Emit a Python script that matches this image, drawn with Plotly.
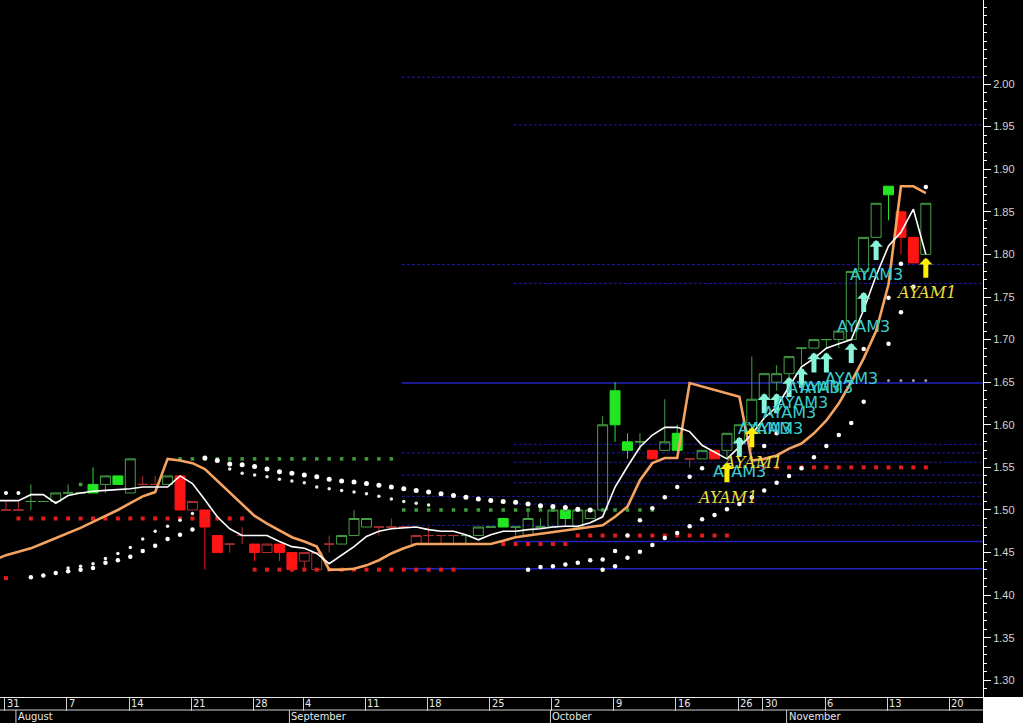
import plotly.graph_objects as go

# ---------------- data ----------------
days = list(range(75))
cndl_open = [1.50, 1.50, 1.51, 1.51, 1.51, 1.52, 1.52, 1.53, 1.53, 1.54,
             1.52, 1.53, 1.53, 1.53, 1.54, 1.50, 1.50, 1.47, 1.46, 1.47,
             1.46, 1.45, 1.46, 1.45, 1.44, 1.43, 1.46, 1.46, 1.47, 1.48,
             1.48, 1.48, 1.48, 1.46, 1.47, 1.47, 1.47, 1.47, 1.47, 1.48,
             1.49, 1.48, 1.47, 1.48, 1.48, 1.50, 1.48, 1.49, 1.50, 1.64,
             1.58, 1.58, 1.57, 1.57, 1.59, 1.56, 1.56, 1.57, 1.57, 1.58,
             1.60, 1.63, 1.65, 1.66, 1.69, 1.69, 1.70, 1.70, 1.70, 1.78,
             1.82, 1.88, 1.85, 1.82, 1.80]
cndl_high = [1.51, 1.51, 1.53, 1.51, 1.52, 1.53, 1.52, 1.55, 1.54, 1.54,
             1.56, 1.54, 1.54, 1.54, 1.54, 1.51, 1.50, 1.47, 1.46, 1.48,
             1.46, 1.46, 1.46, 1.45, 1.45, 1.45, 1.47, 1.47, 1.50, 1.49,
             1.48, 1.49, 1.48, 1.47, 1.48, 1.47, 1.47, 1.47, 1.48, 1.48,
             1.49, 1.48, 1.50, 1.49, 1.50, 1.50, 1.50, 1.50, 1.61, 1.65,
             1.59, 1.59, 1.57, 1.63, 1.60, 1.56, 1.57, 1.57, 1.59, 1.60,
             1.68, 1.66, 1.67, 1.68, 1.69, 1.70, 1.70, 1.71, 1.78, 1.82,
             1.86, 1.88, 1.85, 1.82, 1.86]
cndl_low = [1.50, 1.50, 1.50, 1.51, 1.51, 1.52, 1.52, 1.52, 1.52, 1.53,
            1.52, 1.53, 1.53, 1.53, 1.50, 1.50, 1.43, 1.45, 1.45, 1.46,
            1.44, 1.45, 1.44, 1.43, 1.43, 1.43, 1.45, 1.46, 1.47, 1.48,
            1.47, 1.48, 1.48, 1.46, 1.46, 1.46, 1.46, 1.46, 1.47, 1.48,
            1.48, 1.47, 1.47, 1.48, 1.48, 1.48, 1.48, 1.49, 1.50, 1.58,
            1.56, 1.57, 1.56, 1.57, 1.57, 1.55, 1.56, 1.56, 1.56, 1.58,
            1.57, 1.62, 1.64, 1.65, 1.67, 1.69, 1.69, 1.69, 1.70, 1.77,
            1.82, 1.84, 1.80, 1.79, 1.80]
cndl_close = [1.50, 1.50, 1.51, 1.51, 1.52, 1.52, 1.52, 1.52, 1.54, 1.53,
              1.56, 1.53, 1.53, 1.54, 1.50, 1.51, 1.48, 1.45, 1.46, 1.47,
              1.45, 1.46, 1.45, 1.43, 1.45, 1.45, 1.46, 1.47, 1.49, 1.49,
              1.48, 1.48, 1.48, 1.47, 1.47, 1.47, 1.47, 1.47, 1.48, 1.48,
              1.48, 1.48, 1.49, 1.48, 1.50, 1.49, 1.50, 1.50, 1.60, 1.60,
              1.57, 1.58, 1.56, 1.58, 1.57, 1.56, 1.57, 1.56, 1.59, 1.60,
              1.63, 1.66, 1.66, 1.68, 1.69, 1.70, 1.70, 1.71, 1.78, 1.82,
              1.86, 1.87, 1.82, 1.79, 1.86]
cndl_colour = list("rrgggggggg" "grrgrrrrrr" "rrrrrrrggg" "rrrrrrrggg"
                   "gggggggggg" "ggrggrgrgg" "gggggggggg" "ggrrg")

line_days = list(range(-1, 75))
white_avg = [1.511,
             1.511, 1.511, 1.518, 1.518, 1.508, 1.517, 1.520, 1.522, 1.523, 1.524,
             1.525, 1.527, 1.527, 1.527, 1.540, 1.531, 1.512, 1.492, 1.478, 1.470,
             1.470, 1.470, 1.463, 1.457, 1.455, 1.449, 1.437, 1.447, 1.457, 1.469,
             1.475, 1.478, 1.479, 1.480, 1.477, 1.475, 1.475, 1.471, 1.465, 1.471,
             1.475, 1.475, 1.477, 1.478, 1.480, 1.481, 1.481, 1.485, 1.492, 1.527,
             1.551, 1.574, 1.588, 1.597, 1.597, 1.592, 1.576, 1.568, 1.560, 1.574,
             1.589, 1.608, 1.621, 1.645, 1.668, 1.678, 1.690, 1.695, 1.700, 1.735,
             1.775, 1.810, 1.826, 1.853, 1.800]
orange_avg = [1.441,
              1.447, 1.451, 1.455, 1.461, 1.467, 1.473, 1.479, 1.486, 1.493, 1.500,
              1.508, 1.516, 1.521, 1.560, 1.558, 1.555, 1.548, 1.534, 1.520, 1.507,
              1.493, 1.484, 1.476, 1.468, 1.463, 1.457, 1.430, 1.430, 1.431, 1.435,
              1.441, 1.449, 1.455, 1.460, 1.460, 1.460, 1.460, 1.460, 1.460, 1.460,
              1.464, 1.468, 1.470, 1.472, 1.474, 1.476, 1.478, 1.480, 1.482, 1.492,
              1.504, 1.535, 1.555, 1.561, 1.561, 1.649, 1.645, 1.641, 1.637, 1.633,
              1.558, 1.560, 1.564, 1.572, 1.578, 1.590, 1.605, 1.625, 1.650, 1.678,
              1.710, 1.765, 1.880, 1.880, 1.872]

# dot series: (first day, values)
white_rise_a = (2, [1.421, 1.423, 1.426, 1.428, 1.430, 1.432, 1.438, 1.441, 1.445,
                    1.452, 1.458, 1.466, 1.471, 1.477])
white_rise_b = (5, [1.432, 1.434, 1.437, 1.443, 1.449, 1.456, 1.466, 1.475, 1.481,
                    1.488, 1.496])
white_fall_a = (16, [1.561, 1.558, 1.554, 1.553, 1.551, 1.548, 1.545, 1.543, 1.541,
                     1.539, 1.536, 1.534, 1.533, 1.531, 1.529, 1.527, 1.525, 1.523,
                     1.521, 1.519, 1.517, 1.515, 1.513, 1.511, 1.510, 1.509, 1.507,
                     1.505, 1.504, 1.503, 1.501, 1.500])
white_fall_b = (18, [1.548, 1.543, 1.541, 1.539, 1.536, 1.534, 1.532, 1.527, 1.525,
                     1.523, 1.521, 1.519, 1.516, 1.513, 1.510, 1.508, 1.506])
white_up_a = (42, [1.430, 1.433, 1.434, 1.436, 1.438, 1.441, 1.442, 1.452, 1.470,
                   1.488, 1.502, 1.515, 1.527, 1.539, 1.549])
white_up_a_late_days = [61, 62, 69, 71, 72, 74]
white_up_a_late = [1.575, 1.590, 1.689, 1.749, 1.789, 1.879]
white_up_b = (48, [1.430, 1.434, 1.444, 1.451, 1.459, 1.467, 1.473, 1.481, 1.489,
                   1.494, 1.501, 1.507, 1.515, 1.523, 1.532, 1.540, 1.549, 1.562,
                   1.575, 1.588, 1.602, 1.627, None, 1.695, 1.732, 1.762])
white_top_left = (0, [1.52, 1.52])
grey_dots = (71, [1.652, 1.652, 1.652, 1.652])

red_rows = [
    (0, [1.42]),
    (1, [1.49, 1.49, 1.49, 1.49, 1.49, 1.49, 1.49, 1.49, 1.49, 1.49,
         1.49, 1.49, 1.49, 1.49, 1.49, 1.49, 1.49, 1.49, 1.49]),
    (20, [1.43, 1.43, 1.43, 1.43, 1.43, 1.43, 1.43, 1.43, 1.43, 1.43,
          1.43, 1.43, 1.43, 1.43, 1.43, 1.43, 1.43]),
    (40, [1.46, 1.46, 1.46, 1.46, 1.46, 1.46]),
    (46, [1.47, 1.47, 1.47, 1.47, 1.47, 1.47, 1.47, 1.47, 1.47, 1.47,
          1.47, 1.47, 1.47]),
    (61, [1.55, 1.55, 1.55, 1.55, 1.55, 1.55, 1.55, 1.55, 1.55, 1.55,
          1.55, 1.55, 1.55, 1.55]),
]
green_rows = [
    (6, [1.53]),
    (14, [1.56, 1.56, 1.56, 1.56, 1.56, 1.56, 1.56, 1.56, 1.56, 1.56,
          1.56, 1.56, 1.56, 1.56, 1.56, 1.56, 1.56, 1.56]),
    (32, [1.50, 1.50, 1.50, 1.50, 1.50, 1.50, 1.50, 1.50, 1.50, 1.50,
          1.50, 1.50, 1.50, 1.50, 1.50, 1.50, 1.50, 1.50, 1.50, 1.50, 1.50]),
]

# retracement levels (two sets, drawn from a start day to the right edge)
fib_a_start = 32
fib_a_levels = [2.008, 1.788, 1.649, 1.567, 1.541, 1.516, 1.482, 1.431]
fib_a_solid = [False, False, True, False, False, False, False, True]
fib_b_start = 41
fib_b_levels = [1.952, 1.766, 1.577, 1.556, 1.532, 1.507, 1.463]
fib_b_solid = [False, False, False, False, False, False, True]

# signals
ayam3_days = [59, 61, 62, 63, 64, 65, 66, 68, 69, 70]
ayam3_tip = [1.586, 1.637, 1.637, 1.656, 1.667, 1.685, 1.685, 1.696, 1.756, 1.817]
ayam1_days = [58, 60, 74]
ayam1_tip = [1.556, 1.597, 1.796]

price_ticks = [1.30, 1.35, 1.40, 1.45, 1.50, 1.55, 1.60, 1.65, 1.70, 1.75,
               1.80, 1.85, 1.90, 1.95, 2.00]
week_days = [0, 5, 10, 15, 20, 24, 29, 34, 39, 44, 49, 54, 59, 61, 66, 71, 76]
week_text = ["31", "7", "14", "21", "28", "4", "11", "18", "25", "2", "9", "16",
             "26", "30", "6", "13", "20"]
month_days = [1, 23, 44, 63]
month_text = ["August", "September", "October", "November"]

# ---------------- figure ----------------
fig = go.Figure()


def expand(series):
    start, vals = series
    return [start + k for k in range(len(vals))], vals


def dots(xs, ys, colour, size, symbol="circle"):
    fig.add_trace(go.Scatter(x=xs, y=ys, mode="markers",
                             marker=dict(color=colour, size=size, symbol=symbol,
                                         line=dict(width=0)),
                             hoverinfo="skip"))


for row in red_rows:
    dots(*expand(row), "#e01c1c", 4, "square")
for row in green_rows:
    dots(*expand(row), "#3e9e3e", 3.5, "square")
dots(*expand(white_rise_a), "#ffffff", 4.5)
dots(*expand(white_rise_b), "#f0f0f0", 3.5)
dots(*expand(white_fall_a), "#ffffff", 5)
dots(*expand(white_fall_b), "#dff0df", 3.5)
dots(*expand(white_up_a), "#ffffff", 4.5)
dots(white_up_a_late_days, white_up_a_late, "#ffffff", 4.5)
dots(*expand(white_up_b), "#ffffff", 4.5)
dots(*expand(white_top_left), "#ffffff", 4)
dots(*expand(grey_dots), "#9a9aa8", 3)


def masked(arr, keep):
    return [v if k else None for v, k in zip(arr, keep)]


def candle(keep, inc_line, inc_fill, dec_line, dec_fill):
    fig.add_trace(go.Candlestick(
        x=days,
        open=masked(cndl_open, keep), high=masked(cndl_high, keep),
        low=masked(cndl_low, keep), close=masked(cndl_close, keep),
        increasing=dict(line=dict(color=inc_line, width=1), fillcolor=inc_fill),
        decreasing=dict(line=dict(color=dec_line, width=1), fillcolor=dec_fill),
        whiskerwidth=0, hoverinfo="skip"))


is_doji = [a == b for a, b in zip(cndl_open, cndl_close)]
green_body = [c == "g" and not d for c, d in zip(cndl_colour, is_doji)]
red_body = [c == "r" and not d for c, d in zip(cndl_colour, is_doji)]
green_doji = [c == "g" and d for c, d in zip(cndl_colour, is_doji)]
red_doji = [c == "r" and d for c, d in zip(cndl_colour, is_doji)]

candle(green_body, "#46a046", "rgba(0,0,0,0)", "#22e622", "#22e622")
candle(red_body, "#b03030", "rgba(0,0,0,0)", "#ff1414", "#ff1414")
candle(green_doji, "#46a046", "#46a046", "#46a046", "#46a046")
candle(red_doji, "#b03030", "#b03030", "#b03030", "#b03030")

fig.add_trace(go.Scatter(x=line_days, y=orange_avg, mode="lines",
                         line=dict(color="#f4a460", width=2.6), hoverinfo="skip"))
fig.add_trace(go.Scatter(x=line_days, y=white_avg, mode="lines",
                         line=dict(color="#ffffff", width=1.6), hoverinfo="skip"))

shapes = []
for start, levels, solid in ((fib_a_start, fib_a_levels, fib_a_solid),
                             (fib_b_start, fib_b_levels, fib_b_solid)):
    for lv, s in zip(levels, solid):
        shapes.append(dict(type="line", xref="x", yref="y", x0=start - 0.15, x1=90,
                           y0=lv, y1=lv, layer="below",
                           line=dict(color="#2222c0" if s else "#1c1caa",
                                     width=1.6 if s else 1,
                                     dash="solid" if s else "3px,2px")))

# date strip
strip_h = 697.0
row_line = -13 / strip_h
bottom = -26 / strip_h
shapes.append(dict(type="line", xref="paper", yref="paper", x0=0, x1=1,
                   y0=row_line, y1=row_line, line=dict(color="#cfcfcf", width=1)))
for d in month_days:
    shapes.append(dict(type="line", xref="x", yref="paper", x0=d - 0.2, x1=d - 0.2,
                       y0=row_line, y1=bottom, line=dict(color="#cfcfcf", width=1)))
shapes.append(dict(type="rect", xref="paper", yref="paper", x0=1.0, x1=1.1,
                   y0=-0.1, y1=0, fillcolor="white", line=dict(width=0)))

annotations = []
narrow = "Liberation Sans Narrow, DejaVu Sans Condensed, Arial Narrow, sans-serif"
for d, t in zip(week_days, week_text):
    annotations.append(dict(x=d - 0.1, y=-6.5 / strip_h, xref="x", yref="paper",
                            text=t, showarrow=False, xanchor="left", yanchor="middle",
                            xshift=0, font=dict(size=11, color="#e8e8e8", family=narrow)))
for d, t in zip(month_days, month_text):
    annotations.append(dict(x=d - 0.2, y=-19.5 / strip_h, xref="x", yref="paper",
                            text=t, showarrow=False, xanchor="left", yanchor="middle",
                            xshift=0, font=dict(size=11, color="#e8e8e8", family=narrow)))

for d, v in zip(ayam3_days, ayam3_tip):
    annotations.append(dict(x=d, y=v, xref="x", yref="y", text="AYAM3",
                            showarrow=True, ax=0, ay=35, arrowhead=1, arrowsize=0.45,
                            arrowwidth=5, arrowcolor="#86f5d8", startstandoff=4,
                            font=dict(size=16, color="#3ccccc",
                                      family="DejaVu Sans, sans-serif")))
for d, v in zip(ayam1_days, ayam1_tip):
    annotations.append(dict(x=d, y=v, xref="x", yref="y", text="<i>AYAM1</i>",
                            showarrow=True, ax=0, ay=35, arrowhead=1, arrowsize=0.45,
                            arrowwidth=5, arrowcolor="#ffee00", startstandoff=4,
                            font=dict(size=16, color="#e8de3a",
                                      family="DejaVu Serif, serif")))

fig.update_layout(
    width=1023, height=723,
    margin=dict(l=0, r=40, t=0, b=26),
    paper_bgcolor="black", plot_bgcolor="black",
    showlegend=False, hovermode=False,
    boxgap=0.2, boxgroupgap=0,
    shapes=shapes, annotations=annotations,
    xaxis=dict(type="linear", range=[-0.483, 78.6], showgrid=False, zeroline=False,
               showline=True, linecolor="#e8e8e8", linewidth=1,
               ticks="outside", ticklen=13, tickwidth=1, tickcolor="#cfcfcf",
               tickmode="array", tickvals=[d - 0.1 for d in week_days],
               showticklabels=False, rangeslider=dict(visible=False), fixedrange=True),
    yaxis=dict(range=[1.2805, 2.0986], side="right", showgrid=False, zeroline=False,
               showline=True, linecolor="#ffffff", linewidth=1,
               ticks="outside", ticklen=7, tickcolor="#ffffff",
               tickmode="array", tickvals=price_ticks,
               ticktext=["%.2f" % v for v in price_ticks],
               tickfont=dict(size=11, color="#d4d4d4", family="Liberation Sans, Arial"),
               minor=dict(dtick=0.01, tick0=0, ticks="outside", ticklen=3,
                          tickcolor="#ffffff"),
               fixedrange=True),
)

fig.write_html("out.html", config={"displayModeBar": False},
               post_script="document.body.style.margin='0';"
                           "document.body.style.overflow='hidden';"
                           "document.body.style.background='black';")
